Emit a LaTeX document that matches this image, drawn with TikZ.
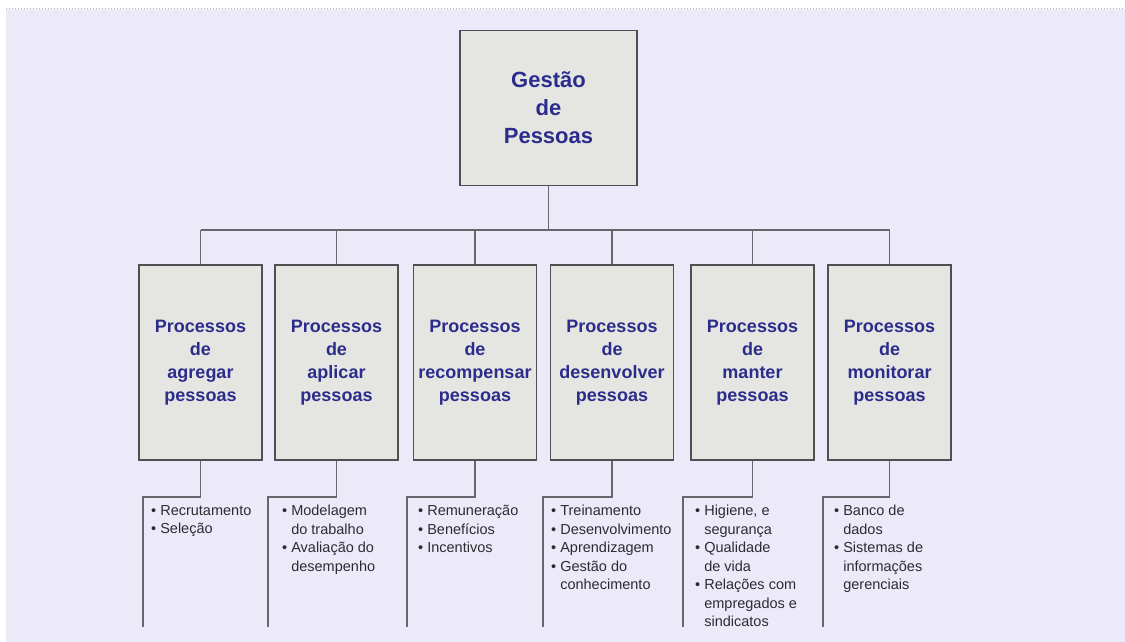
\documentclass[tikz,border=0pt]{standalone}
\usepackage{xcolor}
\usepackage{fontspec}
\setmainfont{Liberation Sans}
\usepackage{tikz}
\usetikzlibrary{positioning}
\definecolor{fundo}{HTML}{ECE9F8}
\definecolor{caixa}{HTML}{E5E6E1}
\definecolor{borda}{HTML}{505054}
\definecolor{ramos}{HTML}{66666C}
\definecolor{titulo}{HTML}{2C2C8C}
\definecolor{itens}{HTML}{2C2C30}
\tikzset{
raiz/.style={draw=borda, line width=1.8pt, fill=caixa, minimum width=177pt, minimum height=155pt,
  align=center, inner sep=0pt, text=titulo, font=\bfseries\fontsize{22}{28}\selectfont},
processo/.style={draw=borda, line width=1.8pt, fill=caixa, minimum width=123pt, minimum height=195pt,
  align=center, inner sep=0pt, text=titulo, font=\bfseries\fontsize{18}{23}\selectfont},
lista/.style={anchor=north west, align=left, inner sep=0pt, text=itens,
  font=\fontsize{14.5}{18.5}\selectfont},
ramo/.style={draw=ramos, line width=1.4pt}
}
\newcommand{\marca}{\textbullet\ }
\newcommand{\recuo}{\phantom{\textbullet\ }}

\begin{document}
\begin{tikzpicture}[x=1pt,y=-1pt]
\useasboundingbox (0,0) rectangle (1125,642);
\fill[white] (0,0) rectangle (1125,642);
\fill[fundo] (6,9) rectangle (1125,642);
\draw[gray!60, dotted, line width=1pt] (6,9) -- (1125,9);

\node[raiz] (gestao) at (548.5,108) {Gestão\\de\\Pessoas};

\node[processo] (agregar) at (200.5,362.5) {Processos\\de\\agregar\\pessoas};
\node[processo] (aplicar) at (336.5,362.5) {Processos\\de\\aplicar\\pessoas};
\node[processo] (recomp) at (475,362.5) {Processos\\de\\recompensar\\pessoas};
\node[processo] (desenv) at (612,362.5) {Processos\\de\\desenvolver\\pessoas};
\node[processo] (manter) at (752.5,362.5) {Processos\\de\\manter\\pessoas};
\node[processo] (monit) at (889.5,362.5) {Processos\\de\\monitorar\\pessoas};

% barra horizontal e fim das chaves
\coordinate (barra) at (0,230);
\coordinate (c-agregar) at (143,627);
\coordinate (c-aplicar) at (268,627);
\coordinate (c-recomp) at (407,627);
\coordinate (c-desenv) at (543,627);
\coordinate (c-manter) at (683,627);
\coordinate (c-monit) at (823,627);

\node[lista] (l-agregar) at (151,505) {\marca Recrutamento\\\marca Seleção};
\node[lista] (l-aplicar) at (282,505) {\marca Modelagem\\\recuo do trabalho\\\marca Avaliação do\\\recuo desempenho};
\node[lista] (l-recomp) at (418,505) {\marca Remuneração\\\marca Benefícios\\\marca Incentivos};
\node[lista] (l-desenv) at (551,505) {\marca Treinamento\\\marca Desenvolvimento\\\marca Aprendizagem\\\marca Gestão do\\\recuo conhecimento};
\node[lista] (l-manter) at (695,505) {\marca Higiene, e\\\recuo segurança\\\marca Qualidade\\\recuo de vida\\\marca Relações com\\\recuo empregados e\\\recuo sindicatos};
\node[lista] (l-monit) at (834,505) {\marca Banco de\\\recuo dados\\\marca Sistemas de\\\recuo informações\\\recuo gerenciais};

\draw[ramo]
(gestao.south) -- (gestao.south |- barra)
(agregar.north |- barra) -- (monit.north |- barra)
(agregar.north |- barra) -- (agregar.north)
(aplicar.north |- barra) -- (aplicar.north)
(recomp.north |- barra) -- (recomp.north)
(desenv.north |- barra) -- (desenv.north)
(manter.north |- barra) -- (manter.north)
(monit.north |- barra) -- (monit.north)
(agregar.south) -- ++(0,36) -| (c-agregar)
(aplicar.south) -- ++(0,36) -| (c-aplicar)
(recomp.south) -- ++(0,36) -| (c-recomp)
(desenv.south) -- ++(0,36) -| (c-desenv)
(manter.south) -- ++(0,36) -| (c-manter)
(monit.south) -- ++(0,36) -| (c-monit)
;
\end{tikzpicture}
\end{document}
